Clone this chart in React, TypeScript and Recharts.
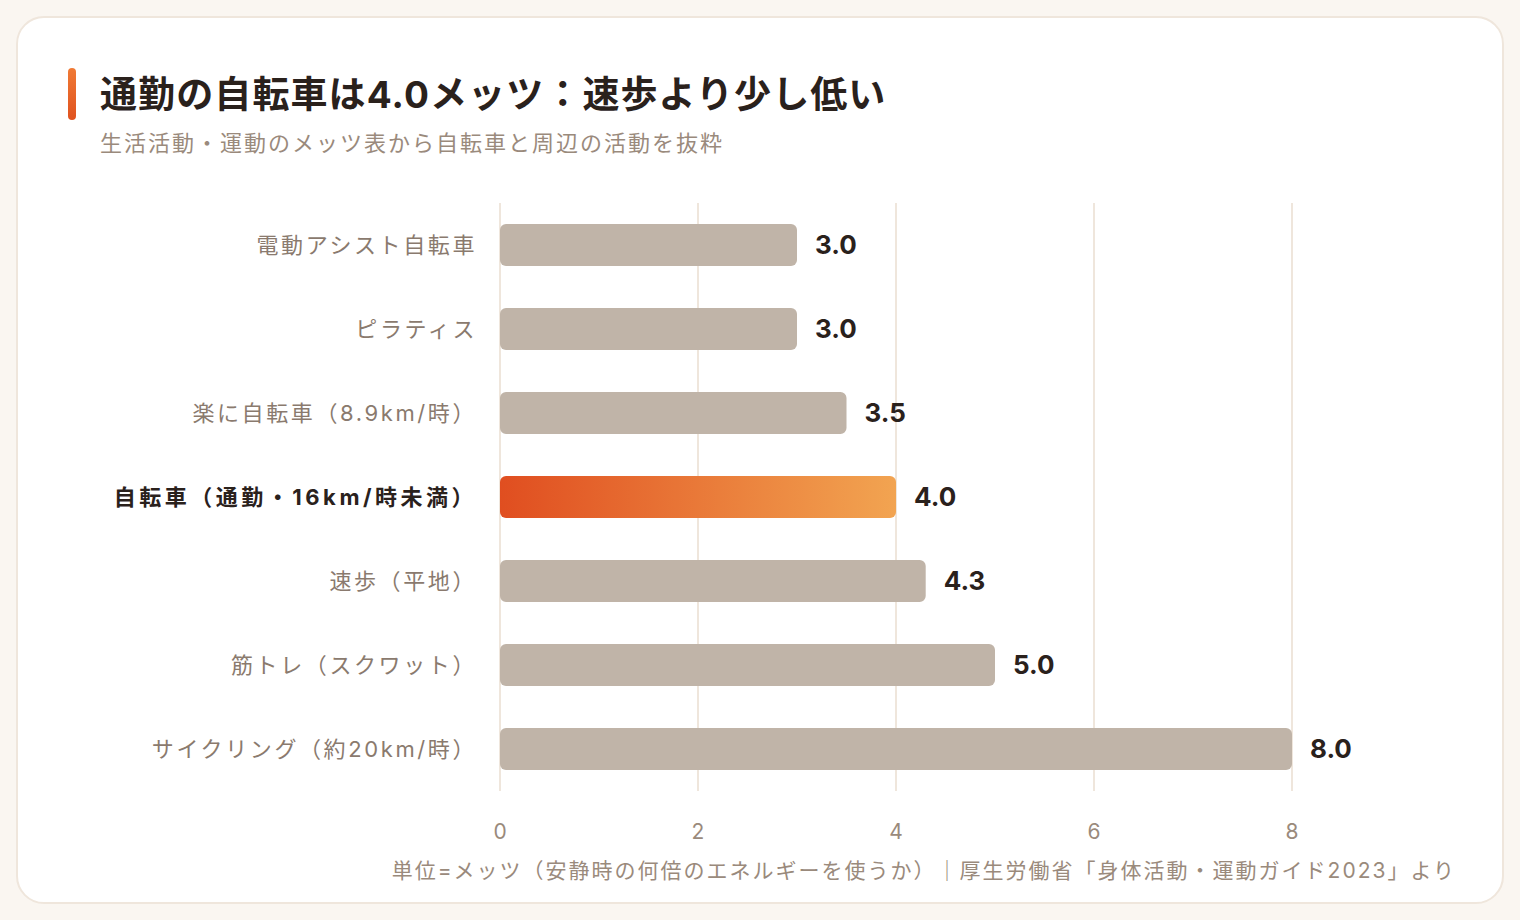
import { BarChart, Bar, XAxis, YAxis, CartesianGrid, Cell, LabelList } from 'recharts';

const activities = [
  '電動アシスト自転車',
  'ピラティス',
  '楽に自転車（8.9km/時）',
  '自転車（通勤・16km/時未満）',
  '速歩（平地）',
  '筋トレ（スクワット）',
  'サイクリング（約20km/時）',
];
const mets = [3.0, 3.0, 3.5, 4.0, 4.3, 5.0, 8.0];
const highlight = '自転車（通勤・16km/時未満）';
const xTicks = [0, 2, 4, 6, 8];

const data = activities.map((name, i) => ({ name, value: mets[i] }));

const FONT = 'Inter, "Noto Sans CJK JP", "Noto Sans", sans-serif';

function CategoryTick({ x, y, payload }: any) {
  const isHi = payload.value === highlight;
  return (
    <text
      x={x + 2}
      y={y}
      dy="0.36em"
      textAnchor="end"
      fontFamily={FONT}
      fontSize={22}
      fontWeight={isHi ? 700 : 400}
      fill={isHi ? '#2a211c' : '#8a7a6e'}
      style={{ letterSpacing: isHi ? 3.5 : 2.6 }}
    >
      {payload.value}
    </text>
  );
}

export default function App() {
  return (
    <div style={{ position: 'fixed', left: 0, top: 0, width: 1520, height: 920, background: '#faf6f1', fontFamily: FONT }}>
      <div
        style={{
          position: 'absolute',
          left: 16,
          top: 16,
          width: 1488,
          height: 888,
          boxSizing: 'border-box',
          background: '#fff',
          border: '2px solid #efe6dc',
          borderRadius: 28,
        }}
      />
      <div
        style={{
          position: 'absolute',
          left: 68,
          top: 68,
          width: 8,
          height: 52,
          borderRadius: 4,
          background: 'linear-gradient(180deg, #f07a35, #e0521f)',
        }}
      />
      <div style={{ position: 'absolute', left: 100, top: 70, fontSize: 37, fontWeight: 700, color: '#2a211c', lineHeight: '50px', letterSpacing: 1.1, whiteSpace: 'nowrap' }}>
        通勤の自転車は4.0メッツ：速歩より少し低い
      </div>
      <div style={{ position: 'absolute', left: 100, top: 128, fontSize: 22, color: '#9a8a7c', lineHeight: '30px', letterSpacing: 2, whiteSpace: 'nowrap' }}>
        生活活動・運動のメッツ表から自転車と周辺の活動を抜粋
      </div>
      <div style={{ position: 'absolute', left: 0, top: 0 }}>
        <BarChart
          width={1520}
          height={920}
          data={data}
          layout="vertical"
          margin={{ top: 203, right: 228, bottom: 89, left: 0 }}
          barCategoryGap={21}
        >
          <defs>
            <linearGradient id="hiGrad" x1="0" y1="0" x2="1" y2="0">
              <stop offset="0%" stopColor="#e04e20" />
              <stop offset="100%" stopColor="#f2a451" />
            </linearGradient>
          </defs>
          <CartesianGrid horizontal={false} stroke="#efe6dc" strokeWidth={2} />
          <XAxis
            type="number"
            domain={[0, 8]}
            ticks={xTicks}
            axisLine={false}
            tickLine={false}
            height={40}
            tickMargin={27}
            tick={{ fontSize: 21, fill: '#9a8a7c', fontFamily: FONT }}
          />
          <YAxis
            type="category"
            dataKey="name"
            width={500}
            axisLine={false}
            tickLine={false}
            tickMargin={19}
            tick={<CategoryTick />}
            interval={0}
          />
          <Bar dataKey="value" barSize={42} radius={6} isAnimationActive={false}>
            {data.map((d) => (
              <Cell key={d.name} fill={d.name === highlight ? 'url(#hiGrad)' : '#c0b4a8'} />
            ))}
            <LabelList
              dataKey="value"
              position="right"
              offset={18}
              formatter={(v: any) => Number(v).toFixed(1)}
              style={{ fontSize: 26, fontWeight: 700, fill: '#2a211c', fontFamily: FONT }}
            />
          </Bar>
        </BarChart>
      </div>
      <div
        style={{
          position: 'absolute',
          right: 64,
          top: 856,
          fontSize: 21,
          color: '#9a8a7c',
          lineHeight: '30px',
          letterSpacing: 2,
          whiteSpace: 'nowrap',
        }}
      >
        単位=メッツ（安静時の何倍のエネルギーを使うか）｜厚生労働省「身体活動・運動ガイド2023」より
      </div>
    </div>
  );
}
